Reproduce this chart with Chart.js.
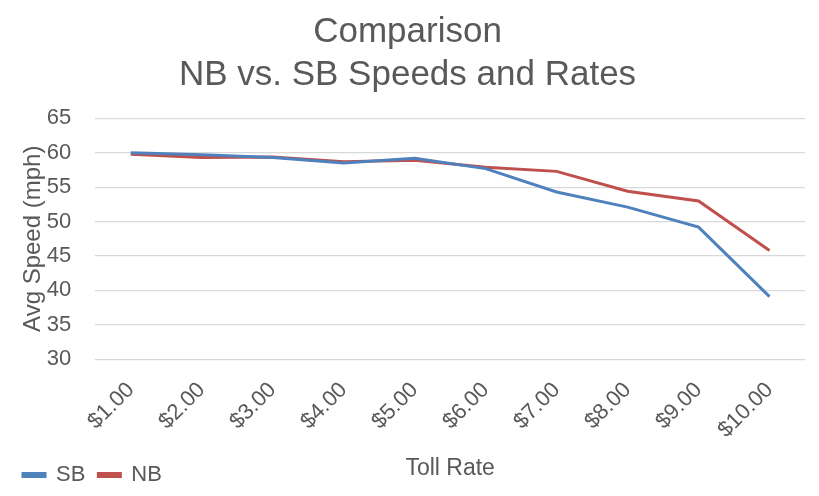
<!DOCTYPE html>
<html>
<head>
<meta charset="utf-8">
<script src="https://cdn.jsdelivr.net/npm/chart.js@4"></script>
<style>
  html, body { margin: 0; padding: 0; background: #fff; }
  #wrap { width: 819px; height: 496px; }
</style>
</head>
<body>
<div id="wrap"><canvas id="chart"></canvas></div>
<script>
// toll rates (x categories)
const rates = ["$1.00", "$2.00", "$3.00", "$4.00", "$5.00", "$6.00", "$7.00", "$8.00", "$9.00", "$10.00"];
// average speeds, mph
const sbSpeed = [60.0, 59.7, 59.3, 58.5, 59.2, 57.7, 54.3, 52.1, 49.2, 39.1];
const nbSpeed = [59.8, 59.3, 59.4, 58.7, 58.9, 57.9, 57.3, 54.4, 53.0, 45.8];
const yTicks = [30, 35, 40, 45, 50, 55, 60, 65];

const grey = "#595959";
const font = "'Liberation Sans', Arial, sans-serif";

var ctx = document.getElementById("chart").getContext("2d");
var chart = new Chart(ctx, {
    type: "line",
    data: {
        labels: rates,
        datasets: [
            {
                label: "SB",
                data: sbSpeed,
                borderColor: "#4F81BD",
                backgroundColor: "#4F81BD",
                borderWidth: 3,
                pointRadius: 0,
                tension: 0,
            },
            {
                label: "NB",
                data: nbSpeed,
                borderColor: "#C0504D",
                backgroundColor: "#C0504D",
                borderWidth: 3,
                pointRadius: 0,
                tension: 0,
            },
        ],
    },
    options: {
        responsive: true,
        maintainAspectRatio: false,
        animation: false,
        layout: { padding: { left: 10, right: 14, top: 0, bottom: 0 } },
        plugins: {
            title: {
                display: true,
                text: ["Comparison", "NB vs. SB Speeds and Rates"],
                color: grey,
                font: { family: font, size: 35, weight: "normal", lineHeight: 1.22 },
                padding: { top: 11, bottom: 22 },
            },
            legend: {
                position: "bottom",
                align: "start",
                labels: {
                    color: grey,
                    font: { family: font, size: 22 },
                    boxWidth: 22,
                    boxHeight: 3,
                    padding: 13,
                },
            },
            tooltip: { enabled: false },
        },
        scales: {
            x: {
                offset: true,
                grid: { display: false },
                border: { display: false },
                ticks: {
                    color: grey,
                    font: { family: font, size: 22 },
                    minRotation: 45,
                    maxRotation: 45,
                    padding: 10,
                },
                title: {
                    display: true,
                    text: "Toll Rate",
                    color: grey,
                    font: { family: font, size: 23 },
                    padding: { top: 1, bottom: -31 },
                },
            },
            y: {
                min: 30,
                max: 65,
                afterBuildTicks: (axis) => { axis.ticks = yTicks.map(v => ({ value: v })); },
                grid: { color: "#D9D9D9", lineWidth: 1.3, drawTicks: false },
                border: { display: false },
                ticks: {
                    color: grey,
                    font: { family: font, size: 22 },
                    padding: 24,
                },
                title: {
                    display: true,
                    text: "Avg Speed (mph)",
                    color: grey,
                    font: { family: font, size: 24 },
                    padding: { top: 9, bottom: -25 },
                },
            },
        },
    },
});
</script>
</body>
</html>
